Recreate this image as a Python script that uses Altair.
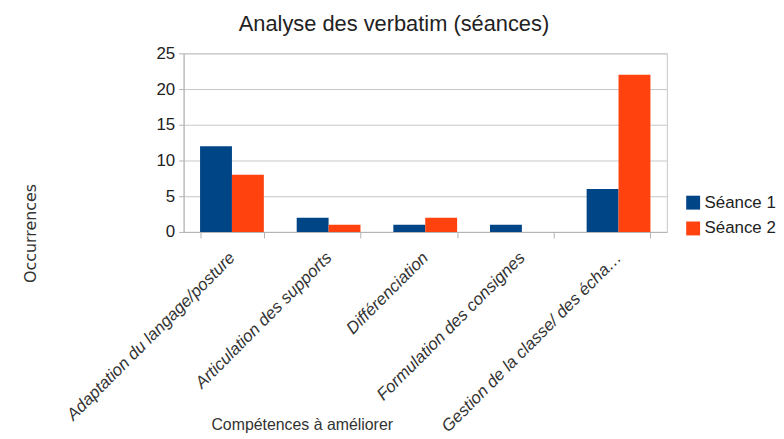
import altair as alt
import pandas as pd

categories = [
    "Adaptation du langage/posture",
    "Articulation des supports",
    "Différenciation",
    "Formulation des consignes",
    "Gestion de la classe/ des écha…",
]
seance1 = [12, 2, 1, 1, 6]
seance2 = [8, 1, 2, 0, 22]
series = ["Séance 1", "Séance 2"]
colors = ["#004586", "#ff420e"]
chart_title = "Analyse des verbatim (séances)"

rows = []
for c, a, b in zip(categories, seance1, seance2):
    rows.append({"cat": c, "serie": series[0], "val": a})
    rows.append({"cat": c, "serie": series[1], "val": b})
df = pd.DataFrame(rows)

FONT = "Liberation Sans"

bars = alt.Chart(df).mark_bar().encode(
    x=alt.X(
        "cat:N",
        sort=categories,
        scale=alt.Scale(paddingInner=0.34, paddingOuter=0.17),
        axis=alt.Axis(
            title="Compétences à améliorer",
            titleFont=FONT,
            titleFontSize=16,
            titleFontWeight="normal",
            titleColor="#333333",
            titleX=119,
            titleY=194,
            titleAlign="center",
            titleBaseline="middle",
            labelAngle=-45,
            labelAlign="right",
            labelBaseline="middle",
            labelFont=FONT,
            labelFontSize=17,
            labelFontStyle="italic",
            labelColor="#333333",
            labelPadding=17,
            tickBand="extent",
            tickSize=6,
            tickColor="#b3b3b3",
            domainColor="#b3b3b3",
            labelLimit=400,
        ),
    ),
    xOffset=alt.XOffset("serie:N", sort=series, scale=alt.Scale(paddingInner=0, paddingOuter=0)),
    y=alt.Y(
        "val:Q",
        scale=alt.Scale(domain=[0, 25], nice=False),
        axis=alt.Axis(
            values=[0, 5, 10, 15, 20, 25],
            title="Occurrences",
            titleFont="DejaVu Sans",
            titleFontSize=16,
            titleFontWeight="normal",
            titleColor="#333333",
            titleX=-154,
            titleY=181,
            titleAlign="center",
            titleBaseline="middle",
            labelFont=FONT,
            labelFontSize=17,
            labelColor="#222222",
            labelPadding=4,
            tickSize=5,
            tickColor="#b3b3b3",
            domainColor="#b3b3b3",
            gridColor="#c8c8c8",
        ),
    ),
    color=alt.Color(
        "serie:N",
        sort=series,
        scale=alt.Scale(domain=series, range=colors),
        legend=alt.Legend(
            title=None,
            orient="none",
            legendX=505,
            legendY=142,
            symbolType="square",
            symbolSize=196,
            symbolStrokeWidth=0,
            labelFont=FONT,
            labelFontSize=17,
            labelColor="#222222",
            rowPadding=8,
            labelOffset=3,
        ),
    ),
)

title_layer = alt.Chart(pd.DataFrame({"t": [chart_title]})).mark_text(
    font=FONT, fontSize=22, color="#222222", align="center", baseline="alphabetic"
).encode(
    text="t:N",
    x=alt.value(212),
    y=alt.value(-23),
)

chart = alt.layer(bars, title_layer).properties(
    width=487,
    height=180,
    padding={"left": 177, "top": 44, "right": 110, "bottom": 206},
    autosize=alt.AutoSizeParams(type="none"),
).configure_view(
    stroke="#c8c8c8"
).configure_axisX(grid=False)

chart.save("out.html", embed_options={"renderer": "svg", "actions": False})
